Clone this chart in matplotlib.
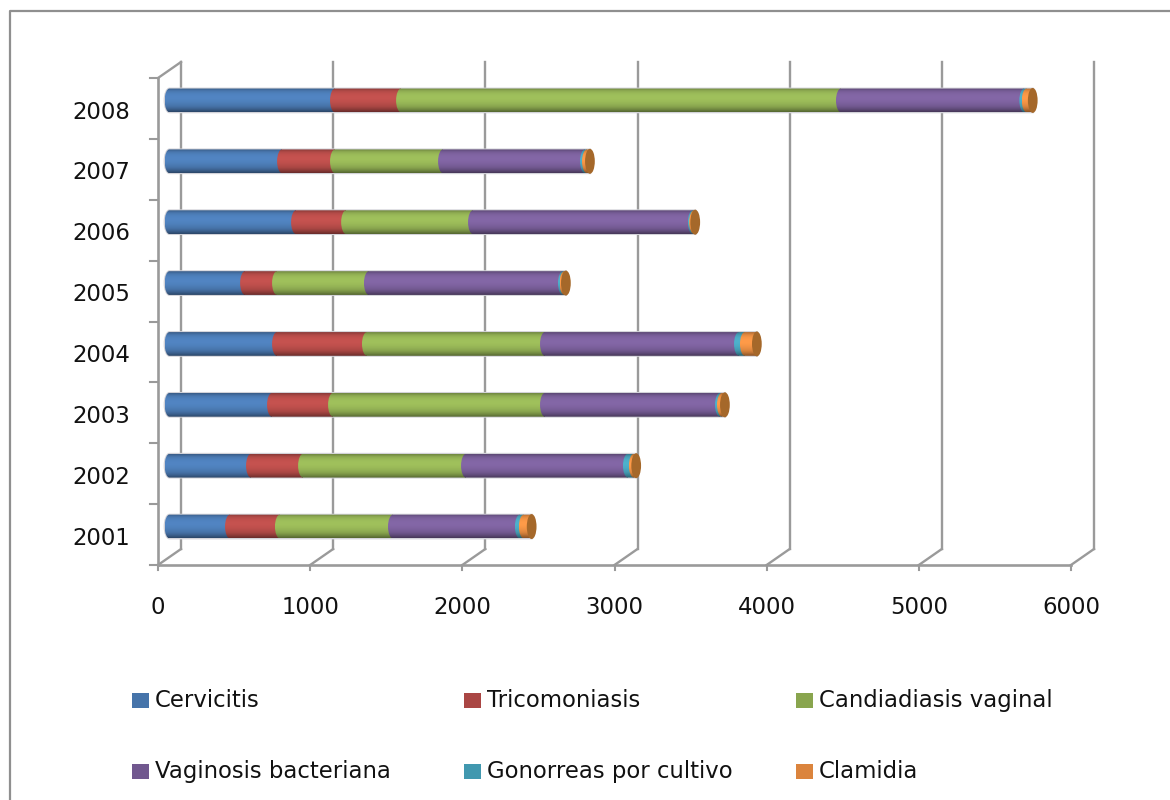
import numpy as np
import matplotlib
matplotlib.use('Agg')
import matplotlib.pyplot as plt
from matplotlib.patches import Ellipse, PathPatch, Rectangle
from matplotlib.path import Path
from matplotlib.transforms import ScaledTranslation

years = ['2001', '2002', '2003', '2004', '2005', '2006', '2007', '2008']
cervicitis = [397, 535, 673, 706, 496, 831, 739, 1087]
tricomoniasis = [328, 342, 401, 591, 210, 329, 348, 434]
candidiasis = [743, 1071, 1393, 1170, 604, 834, 710, 2891]
vaginosis = [834, 1064, 1150, 1275, 1275, 1445, 933, 1205]
gonorreas = [26, 39, 13, 39, 10, 8, 13, 16]
clamidia = [52, 16, 20, 79, 10, 8, 20, 40]

names = ['Cervicitis', 'Tricomoniasis', 'Candiadiasis vaginal',
         'Vaginosis bacteriana', 'Gonorreas por cultivo', 'Clamidia']
series = [cervicitis, tricomoniasis, candidiasis, vaginosis, gonorreas, clamidia]
colors = ['#4f81bd', '#c0504d', '#9bbb59', '#8064a2', '#4bacc6', '#f79646']
legend_colors = ['#4674aa', '#aa4644', '#89a54e', '#71588f', '#4198af', '#db843d']
x_ticks = [0, 1000, 2000, 3000, 4000, 5000, 6000]

plt.rcParams['font.family'] = ['DejaVu Sans']
W, H = 1170, 800
fig = plt.figure(figsize=(W / 100, H / 100), dpi=100)

# plot area in pixels: x 158-1071, y 78-565
ax = fig.add_axes([158 / W, 1 - 565 / H, (1071 - 158) / W, (565 - 78) / H])
ax.set_xlim(0, 6000)
ax.set_ylim(0, 8)
ax.axis('off')
ax.patch.set_visible(False)

grid_c = '#9a9a9a'
text_c = '#111111'
font_size = 16.4


def px_offset(dx, dy):
    return ax.transData + ScaledTranslation(dx / 100, -dy / 100, fig.dpi_scale_trans)


# 3d walls: back gridlines, floor and left edge
back = px_offset(23, -16)
for t in x_ticks:
    ax.plot([t, t], [0, 8], color=grid_c, lw=1.7, transform=back, clip_on=False, zorder=1)
    x_front = ax.transData.transform((t, 0))
    ax.plot([x_front[0], x_front[0] + 23], [x_front[1], x_front[1] + 16], color=grid_c,
            lw=1.7, transform=None, clip_on=False, zorder=1)
    ax.plot([t, t], [0, -0.09], color=grid_c, lw=1.5, clip_on=False, zorder=1)
    ax.text(t, -0.69, str(t), ha='center', va='center', fontsize=font_size, color=text_c)

ax.plot([0, 6000], [0, 0], color=grid_c, lw=1.9, clip_on=False, zorder=2)
ax.plot([0, 0], [0, 8], color=grid_c, lw=1.9, clip_on=False, zorder=2)
x_top = ax.transData.transform((0, 8))
ax.plot([x_top[0], x_top[0] + 23], [x_top[1], x_top[1] + 16], color=grid_c, lw=1.7,
        transform=None, clip_on=False, zorder=1)

for i in range(9):
    ax.plot([0, -50], [i, i], color=grid_c, lw=1.5, clip_on=False, zorder=2)
for i, year in enumerate(years):
    ax.text(-184, i + 0.44, year, ha='right', va='center', fontsize=font_size, color=text_c)

# cylinders, bar centre sits halfway through the depth
bar_tf = px_offset(11.5, -8)
half_h = 0.195
cap_w = 32
shade = np.array([0.72, 0.92, 1.0, 1.03, 1.03, 1.0, 0.95, 0.88, 0.74, 0.55])
shade = np.interp(np.linspace(0, 9, 48), np.arange(10), shade)[:, None]


def gradient(color):
    rgb = np.array(matplotlib.colors.to_rgb(color))
    return np.clip(shade * rgb[None, :], 0, 1)[:, None, :]


def segment_path(x0, x1, y):
    k = 0.55
    top = y + half_h
    bot = y - half_h
    verts = [(x0, bot), (x0 - k * cap_w, bot), (x0 - cap_w, y - k * half_h), (x0 - cap_w, y),
             (x0 - cap_w, y + k * half_h), (x0 - k * cap_w, top), (x0, top),
             (x1, top), (x1, bot), (x0, bot)]
    codes = [Path.MOVETO, Path.CURVE4, Path.CURVE4, Path.CURVE4, Path.CURVE4, Path.CURVE4,
             Path.CURVE4, Path.LINETO, Path.LINETO, Path.CLOSEPOLY]
    return Path(verts, codes)


z = 5
for i in range(len(years)):
    y = i + 0.5
    total = 0
    # pale halo round the bar, stops short of the end face
    full = sum(s[i] for s in series)
    ax.add_patch(PathPatch(segment_path(0, full, y), fc='white', ec='#d2d2d8', lw=1.4,
                           transform=bar_tf, clip_on=False, zorder=4))
    for s, c in zip(series, colors):
        x0, x1 = total, total + s[i]
        im = ax.imshow(gradient(c), extent=(x0 - cap_w, x1 + 2, y - half_h, y + half_h),
                       origin='upper', aspect='auto', interpolation='bilinear', zorder=z,
                       transform=bar_tf, clip_on=True)
        im.set_clip_path(PathPatch(segment_path(x0, x1, y), transform=bar_tf))
        z += 1
        total = x1
    # end face of the cylinder
    ax.add_patch(Ellipse((total, y), cap_w * 2, half_h * 2 + 0.02, fc='#a5682a', ec='none',
                         transform=bar_tf, clip_on=False, zorder=z))
    z += 1

ax.set_xlim(0, 6000)
ax.set_ylim(0, 8)

# legend placed by hand, two rows of three like the office layout
leg_x = [132, 464, 796]
leg_y = [700.5, 771.5]
for k, (name, c) in enumerate(zip(names, legend_colors)):
    col = k % 3
    row = k // 3
    fig.add_artist(Rectangle((leg_x[col] / W, 1 - (leg_y[row] + 7.5) / H), 17 / W, 15 / H,
                             fc=c, ec='none', transform=fig.transFigure))
    fig.text((leg_x[col] + 23) / W, 1 - leg_y[row] / H, name, ha='left', va='center',
             fontsize=font_size, color=text_c)

# outer chart frame, only top and left are inside the crop
fig.add_artist(plt.Line2D([10 / W, 10 / W, 1], [0, 1 - 10.5 / H, 1 - 10.5 / H],
                          color='#8f8f8f', lw=1.6))

fig.savefig('out.png', dpi=100)
